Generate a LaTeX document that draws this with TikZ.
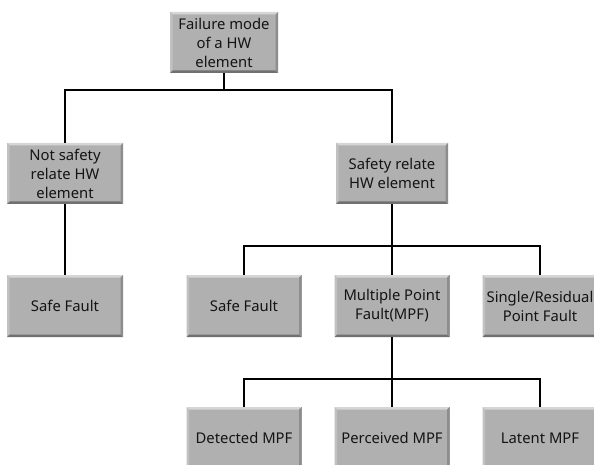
\documentclass[tikz,border=0pt]{standalone}
\usepackage{fontspec}
\newfontfamily\boxfont{Noto Sans}
\definecolor{boxgray}{RGB}{176,176,176}
\definecolor{boxlight}{RGB}{214,214,214}
\definecolor{boxdark}{RGB}{112,112,112}
\definecolor{txt}{RGB}{20,20,20}
\tikzset{
  box/.style={rectangle, fill=boxgray, inner sep=0pt, align=center,
    minimum height=62pt, minimum width=115pt, text=txt,
    font=\boxfont\fontsize{14.8}{19}\selectfont,
    path picture={
      \fill[boxlight] (path picture bounding box.north west) -- (path picture bounding box.north east)
        -- ([shift={(-2.5pt,-2.5pt)}]path picture bounding box.north east)
        -- ([shift={(2.5pt,-2.5pt)}]path picture bounding box.north west) -- cycle;
      \fill[boxlight!90!black] (path picture bounding box.north west) -- (path picture bounding box.south west)
        -- ([shift={(2.5pt,2.5pt)}]path picture bounding box.south west)
        -- ([shift={(2.5pt,-2.5pt)}]path picture bounding box.north west) -- cycle;
      \fill[boxdark] (path picture bounding box.south west) -- (path picture bounding box.south east)
        -- ([shift={(-2.5pt,2.5pt)}]path picture bounding box.south east)
        -- ([shift={(2.5pt,2.5pt)}]path picture bounding box.south west) -- cycle;
      \fill[boxdark!80!white] (path picture bounding box.north east) -- (path picture bounding box.south east)
        -- ([shift={(-2.5pt,2.5pt)}]path picture bounding box.south east)
        -- ([shift={(-2.5pt,-2.5pt)}]path picture bounding box.north east) -- cycle;
    }},
  conn/.style={draw=black, line width=2.4pt}
}
\begin{document}
\begin{tikzpicture}[x=1pt,y=-1pt]
\useasboundingbox[fill=white] (0,0) rectangle (594,465);
\node[box, minimum width=108pt, minimum height=61pt] (top) at (224,42.5) {Failure mode\\of a HW\\element};
\node[box, minimum width=116pt, minimum height=61pt] (ns) at (65,173.5) {Not safety\\relate HW\\element};
\node[box, minimum width=112pt, minimum height=61pt] (sr) at (392,173.5) {Safety relate\\HW element};
\node[box, minimum width=116pt] (sf1) at (65,306) {Safe Fault};
\node[box] (sf2) at (244,306) {Safe Fault};
\node[box] (mpf) at (392,306) {Multiple Point\\Fault(MPF)};
\node[box] (spf) at (540,306) {Single/Residual\\Point Fault};
\node[box] (det) at (244,438) {Detected MPF};
\node[box] (per) at (392,438) {Perceived MPF};
\node[box] (lat) at (540,438) {Latent MPF};
\coordinate (j1) at (224,90);
\coordinate (j2) at (392,246);
\coordinate (j3) at (392,379);
\draw[conn] (top.south) -- (j1);
\draw[conn] (ns.north) |- (j1) -| (sr.north);
\draw[conn] (ns.south) -- (sf1.north);
\draw[conn] (sr.south) -- (j2);
\draw[conn] (sf2.north) |- (j2) -| (spf.north);
\draw[conn] (j2) -- (mpf.north);
\draw[conn] (mpf.south) -- (j3);
\draw[conn] (det.north) |- (j3) -| (lat.north);
\draw[conn] (j3) -- (per.north);
\end{tikzpicture}
\end{document}
